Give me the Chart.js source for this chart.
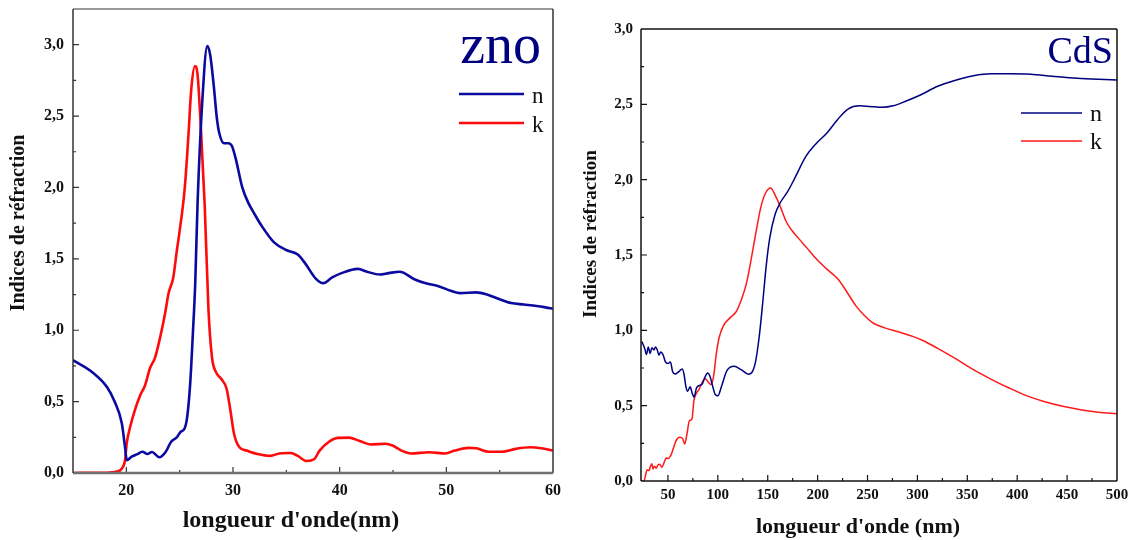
<!DOCTYPE html>
<html lang="fr">
<head>
<meta charset="UTF-8">
<title>Indices de réfraction ZnO / CdS</title>
<script src="https://cdn.jsdelivr.net/npm/chart.js@4.4.1/dist/chart.umd.js"></script>
<style>
  html, body { margin: 0; padding: 0; background: #fff; }
  #wrap { position: relative; width: 1129px; height: 540px; }
  canvas { position: absolute; top: 0; }
  #zno { left: 0; }
  #cds { left: 570px; }
</style>
</head>
<body>
<div id="wrap">
  <canvas id="zno" width="570" height="540"></canvas>
  <canvas id="cds" width="559" height="540"></canvas>
</div>
<script>
// ZnO : indices n et k en fonction de la longueur d'onde (nm)
const znoNx = [15, 16.9, 18.2, 18.9, 19.57, 19.88, 20.04, 20.5, 20.98, 21.5, 21.98, 22.4, 23.1, 23.7, 24.2, 24.7, 25.1, 25.45, 25.7, 25.99, 26.24, 26.46, 26.67, 27.11, 27.59, 27.86, 28.2, 28.48, 28.7, 29.16, 29.57, 29.9, 30.26, 30.87, 31.45, 31.97, 32.65, 33.85, 35.04, 36.07, 36.75, 37.78, 38.46, 39.3, 40.17, 41.7, 42.56, 43.76, 44.6, 45.64, 47.0, 48.0, 49.2, 50.4, 51.3, 52.8, 53.8, 54.87, 56.07, 57.26, 58.46, 59.3, 60];
const znoN = [0.79, 0.70, 0.60, 0.50, 0.35, 0.18, 0.09, 0.114, 0.13, 0.149, 0.133, 0.147, 0.11, 0.149, 0.219, 0.247, 0.289, 0.31, 0.39, 0.63, 0.98, 1.33, 1.87, 2.59, 2.99, 2.93, 2.71, 2.49, 2.385, 2.31, 2.31, 2.29, 2.20, 2.0, 1.89, 1.82, 1.735, 1.615, 1.56, 1.53, 1.47, 1.36, 1.33, 1.37, 1.40, 1.43, 1.41, 1.39, 1.40, 1.41, 1.357, 1.33, 1.31, 1.277, 1.26, 1.265, 1.25, 1.22, 1.19, 1.18, 1.17, 1.16, 1.15];
const znoKx = [15, 17, 18.5, 19.1, 19.57, 19.88, 20.04, 20.35, 20.8, 21.3, 21.76, 22.2, 22.7, 23.17, 23.64, 23.95, 24.4, 24.74, 24.96, 25.47, 25.81, 26.09, 26.43, 26.67, 27.0, 27.35, 27.7, 28.03, 28.38, 28.89, 29.4, 29.74, 30.09, 30.6, 31.28, 32.3, 33.5, 34.36, 35.4, 36.07, 36.9, 37.6, 38.12, 38.97, 39.83, 40.85, 41.88, 42.9, 44.27, 44.96, 45.8, 46.67, 48.4, 49.9, 50.77, 52.1, 52.8, 54.0, 55.2, 56.5, 57.9, 58.9, 60];
const znoK = [0.0, 0.002, 0.004, 0.01, 0.03, 0.09, 0.21, 0.32, 0.44, 0.545, 0.615, 0.73, 0.81, 0.95, 1.12, 1.256, 1.37, 1.56, 1.675, 1.99, 2.35, 2.69, 2.85, 2.795, 2.40, 1.87, 1.145, 0.81, 0.71, 0.66, 0.59, 0.446, 0.277, 0.18, 0.157, 0.133, 0.12, 0.137, 0.14, 0.12, 0.084, 0.096, 0.157, 0.217, 0.246, 0.248, 0.224, 0.2, 0.205, 0.193, 0.157, 0.137, 0.145, 0.137, 0.157, 0.176, 0.173, 0.149, 0.149, 0.169, 0.18, 0.173, 0.157];

// CdS : indices n et k en fonction de la longueur d'onde (nm)
const cdsNx = [23.9, 26.7, 28.5, 30.3, 32.1, 33.9, 36.0, 37.5, 39.3, 41.0, 42.8, 45.3, 47.5, 50, 52.5, 54.7, 57.2, 60.7, 64.3, 66.1, 67.9, 69.7, 72.2, 74.3, 76.1, 78.6, 81.1, 84.0, 86.9, 89.7, 92.2, 94.8, 97.6, 100.1, 103.7, 109.1, 116.2, 123.4, 130.6, 134.1, 137.7, 141.3, 144.9, 148.5, 152.0, 157.4, 162.8, 169.9, 177.1, 187.8, 198.6, 209.3, 220.1, 230.8, 241.5, 252.3, 264.8, 275.6, 288.1, 302.4, 320.3, 338.2, 356.1, 374.0, 391.9, 413.4, 434.9, 460.0, 481.4, 500];
const cdsN = [0.926, 0.88, 0.84, 0.89, 0.846, 0.885, 0.87, 0.89, 0.87, 0.835, 0.857, 0.835, 0.79, 0.78, 0.79, 0.725, 0.71, 0.725, 0.743, 0.71, 0.63, 0.595, 0.625, 0.583, 0.556, 0.617, 0.633, 0.64, 0.686, 0.716, 0.693, 0.629, 0.572, 0.565, 0.629, 0.732, 0.761, 0.739, 0.709, 0.72, 0.789, 0.949, 1.178, 1.43, 1.612, 1.77, 1.85, 1.92, 2.01, 2.15, 2.24, 2.31, 2.40, 2.47, 2.49, 2.486, 2.48, 2.49, 2.52, 2.56, 2.62, 2.66, 2.69, 2.703, 2.703, 2.70, 2.687, 2.673, 2.666, 2.662];
const cdsKx = [23.1, 26, 27.8, 29.2, 31, 32.5, 33.9, 35, 36.4, 38.2, 40.0, 41.8, 43.9, 46.4, 48.2, 50.4, 52.9, 55.4, 58.2, 61.8, 64.7, 66.8, 69.0, 71.5, 74.0, 76.1, 78.6, 81.1, 84.0, 87.6, 90.5, 93.3, 95.8, 98.3, 101.2, 105.5, 112.7, 118.0, 123.4, 128.8, 134.1, 138.4, 143.1, 147.7, 152.8, 157.4, 162.8, 168.2, 173.5, 180.7, 189.6, 198.6, 209.3, 220.1, 229.0, 238.0, 246.9, 255.9, 266.6, 280.9, 295.3, 306.0, 320.3, 338.2, 356.1, 374.0, 391.9, 409.8, 427.7, 445.6, 463.5, 481.4, 500];
const cdsK = [0, 0, 0.046, 0.075, 0.069, 0.098, 0.114, 0.08, 0.098, 0.085, 0.107, 0.112, 0.091, 0.126, 0.153, 0.149, 0.17, 0.217, 0.268, 0.29, 0.281, 0.245, 0.309, 0.40, 0.41, 0.537, 0.583, 0.606, 0.652, 0.679, 0.656, 0.64, 0.697, 0.835, 0.949, 1.03, 1.086, 1.12, 1.20, 1.315, 1.498, 1.658, 1.818, 1.91, 1.945, 1.898, 1.818, 1.726, 1.669, 1.612, 1.544, 1.475, 1.406, 1.342, 1.258, 1.166, 1.098, 1.047, 1.018, 0.99, 0.96, 0.931, 0.88, 0.812, 0.739, 0.675, 0.617, 0.565, 0.526, 0.496, 0.473, 0.457, 0.446];

const serif = '"Liberation Serif", "Times New Roman", serif';

function pairs(xs, ys) {
  return xs.map((x, i) => ({ x: x, y: ys[i] }));
}

function isMultiple(v, step) {
  const r = v / step;
  return Math.abs(r - Math.round(r)) < 1e-6;
}

function fmt(v) {
  return v.toFixed(1).replace('.', ',');
}

// cadre, graduations vers l'intérieur, titres des axes, nom du matériau et légende
function decor(o) {
  return {
    id: 'decor',
    afterDatasetsDraw(chart) {
      const { ctx, chartArea: a, scales: { x, y } } = chart;
      ctx.save();

      ctx.strokeStyle = o.tickColor;
      ctx.lineWidth = 1.2;
      ctx.beginPath();
      x.ticks.forEach(t => {
        const px = x.getPixelForValue(t.value);
        if (px < a.left + 4 || px > a.right - 4) return;
        const len = isMultiple(t.value, o.xMajor) ? 6 : 3;
        ctx.moveTo(px, a.bottom);
        ctx.lineTo(px, a.bottom - len);
      });
      y.ticks.forEach(t => {
        const py = y.getPixelForValue(t.value);
        if (py < a.top + 4 || py > a.bottom - 4) return;
        const len = isMultiple(t.value, o.yMajor) ? 6 : 3;
        ctx.moveTo(a.left, py);
        ctx.lineTo(a.left + len, py);
      });
      ctx.stroke();

      const sides = [
        ['top', a.left, a.top, a.right, a.top],
        ['right', a.right, a.top, a.right, a.bottom],
        ['bottom', a.left, a.bottom, a.right, a.bottom],
        ['left', a.left, a.top, a.left, a.bottom]
      ];
      sides.forEach(([name, x1, y1, x2, y2]) => {
        const s = o.frame[name];
        ctx.strokeStyle = s.color;
        ctx.lineWidth = s.width;
        ctx.beginPath();
        ctx.moveTo(x1, y1);
        ctx.lineTo(x2, y2);
        ctx.stroke();
      });

      ctx.fillStyle = '#111';
      ctx.textAlign = 'center';
      ctx.textBaseline = 'middle';
      ctx.font = 'bold ' + o.xTitle.size + 'px ' + serif;
      ctx.fillText(o.xTitle.text, o.xTitle.x, o.xTitle.y);
      ctx.save();
      ctx.font = 'bold ' + o.yTitle.size + 'px ' + serif;
      ctx.translate(o.yTitle.x, o.yTitle.y);
      ctx.rotate(-Math.PI / 2);
      ctx.fillText(o.yTitle.text, 0, 0);
      ctx.restore();

      ctx.fillStyle = '#000080';
      ctx.font = o.name.size + 'px ' + serif;
      ctx.textAlign = 'right';
      ctx.textBaseline = 'alphabetic';
      ctx.fillText(o.name.text, o.name.x, o.name.y);

      ctx.font = o.legend.size + 'px ' + serif;
      ctx.textAlign = 'left';
      chart.data.datasets.forEach((ds, i) => {
        const ly = o.legend.y[i];
        ctx.strokeStyle = ds.borderColor;
        ctx.lineWidth = ds.borderWidth;
        ctx.beginPath();
        ctx.moveTo(o.legend.x1, ly);
        ctx.lineTo(o.legend.x2, ly);
        ctx.stroke();
        ctx.fillStyle = '#111';
        ctx.fillText(ds.label, o.legend.tx, ly + o.legend.dy);
      });

      ctx.restore();
    }
  };
}

function makeChart(id, cfg) {
  return new Chart(document.getElementById(id), {
    type: 'line',
    data: {
      datasets: [
        { label: 'n', data: pairs(cfg.nx, cfg.n), borderColor: cfg.nColor, borderWidth: cfg.lw },
        { label: 'k', data: pairs(cfg.kx, cfg.k), borderColor: cfg.kColor, borderWidth: cfg.lw }
      ]
    },
    options: {
      responsive: false,
      animation: false,
      parsing: false,
      cubicInterpolationMode: 'monotone',
      elements: { point: { radius: 0 } },
      layout: { padding: cfg.padding },
      plugins: { legend: { display: false }, tooltip: { enabled: false } },
      scales: {
        x: {
          type: 'linear',
          min: cfg.xMin, max: cfg.xMax,
          grid: { display: false, drawTicks: false },
          border: { display: false },
          afterFit(s) {
            s.height = cfg.xHeight;
            s.paddingLeft = 0;
            s.paddingRight = 0;
          },
          ticks: {
            stepSize: cfg.xStep,
            autoSkip: false,
            maxRotation: 0,
            padding: cfg.xPad,
            color: '#111',
            font: { family: serif, size: cfg.tickSize, weight: 'bold' },
            callback: v => (isMultiple(v, cfg.xMajor) ? String(v) : '')
          }
        },
        y: {
          type: 'linear',
          min: 0, max: cfg.yMax,
          grid: { display: false, drawTicks: false },
          border: { display: false },
          afterFit(s) {
            s.width = cfg.yWidth;
            s.paddingTop = 0;
            s.paddingBottom = 0;
          },
          ticks: {
            stepSize: 0.25,
            autoSkip: false,
            padding: cfg.yPad,
            color: '#111',
            font: { family: serif, size: cfg.tickSize, weight: 'bold' },
            callback: v => (isMultiple(v, 0.5) ? fmt(v) : '')
          }
        }
      }
    },
    plugins: [decor(cfg.decor)]
  });
}

makeChart('zno', {
  nx: znoNx, n: znoN, kx: znoKx, k: znoK,
  nColor: '#0a0aa0', kColor: '#ff0a0a', lw: 2.6,
  xMin: 15, xMax: 60, xStep: 5, xMajor: 10, yMax: 3.25,
  padding: { left: 0, top: 9, right: 17, bottom: 0 },
  xHeight: 67, yWidth: 73, xPad: 8, yPad: 9, tickSize: 16,
  decor: {
    xMajor: 10, yMajor: 0.5, tickColor: '#333',
    frame: {
      top: { color: '#777', width: 1.5 },
      right: { color: '#333', width: 1.5 },
      bottom: { color: '#707070', width: 2.5 },
      left: { color: '#333', width: 1.5 }
    },
    xTitle: { text: "longueur d'onde(nm)", x: 291, y: 521, size: 24 },
    yTitle: { text: 'Indices de réfraction', x: 19, y: 223, size: 20 },
    name: { text: 'zno', x: 541, y: 63, size: 56 },
    legend: { x1: 459, x2: 524, tx: 532, y: [94, 123], dy: 9, size: 23 }
  }
});

makeChart('cds', {
  nx: cdsNx, n: cdsN, kx: cdsKx, k: cdsK,
  nColor: '#000080', kColor: '#ff1a1a', lw: 1.5,
  xMin: 23, xMax: 500, xStep: 25, xMajor: 50, yMax: 3,
  padding: { left: 0, top: 29, right: 12, bottom: 0 },
  xHeight: 59, yWidth: 71, xPad: 5, yPad: 8, tickSize: 15,
  decor: {
    xMajor: 50, yMajor: 0.5, tickColor: '#111',
    frame: {
      top: { color: '#111', width: 1.5 },
      right: { color: '#111', width: 1.5 },
      bottom: { color: '#111', width: 1.5 },
      left: { color: '#111', width: 1.5 }
    },
    xTitle: { text: "longueur d'onde (nm)", x: 288, y: 527, size: 22 },
    yTitle: { text: 'Indices de réfraction', x: 21, y: 234, size: 19 },
    name: { text: 'CdS', x: 543, y: 63, size: 38 },
    legend: { x1: 451, x2: 512, tx: 520, y: [113, 141], dy: 8, size: 24 }
  }
});
</script>
</body>
</html>
